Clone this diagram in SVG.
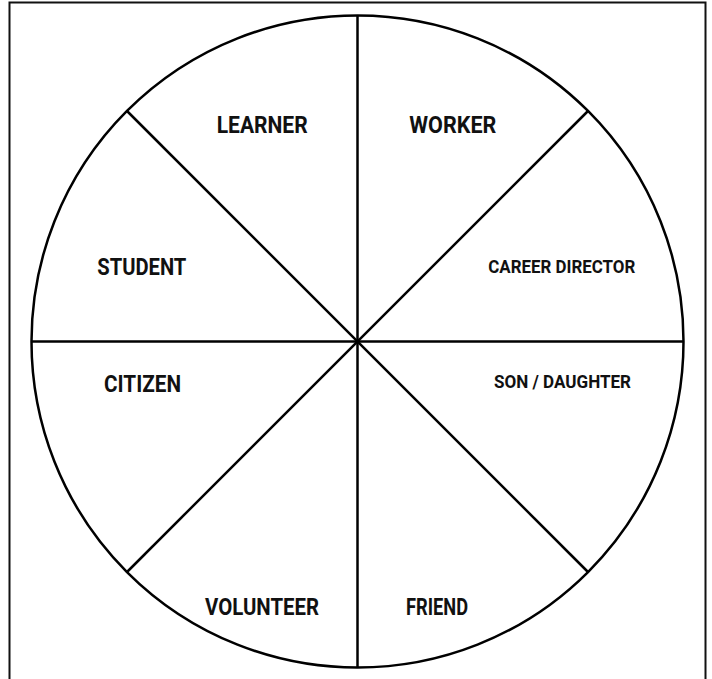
<svg xmlns="http://www.w3.org/2000/svg" width="712" height="679" viewBox="0 0 712 679">
<style>
.frame{fill:none;stroke:#111;stroke-width:2}
.wheel{fill:#fff;stroke:#000;stroke-width:2.5}
.spoke{stroke:#000;stroke-width:2.5}
.lbl{font-family:Roboto,"Liberation Sans",sans-serif;font-weight:bold;fill:#111}
.big{font-size:24px}
.small{font-size:18px}
</style>
<rect width="712" height="679" fill="#fff"/>
<rect class="frame" x="9.5" y="2.5" width="696" height="700"/>
<g id="wheel"><circle class="wheel" cx="357.5" cy="341.5" r="326"/></g>
<g id="connectors">
<line class="spoke" x1="357.5" y1="15.5" x2="357.5" y2="667.5"/>
<line class="spoke" x1="31.5" y1="341.5" x2="683.5" y2="341.5"/>
<line class="spoke" x1="127" y1="111" x2="588" y2="572"/>
<line class="spoke" x1="588" y1="111" x2="127" y2="572"/>
</g>
<g id="learner"><text class="lbl big" x="216.7" y="132.7" textLength="91" lengthAdjust="spacingAndGlyphs">LEARNER</text></g>
<g id="worker"><text class="lbl big" x="409.3" y="132.7" textLength="87" lengthAdjust="spacingAndGlyphs">WORKER</text></g>
<g id="student"><text class="lbl big" x="97.3" y="275" textLength="89" lengthAdjust="spacingAndGlyphs">STUDENT</text></g>
<g id="career-director"><text class="lbl small" x="488.3" y="272.7" textLength="147" lengthAdjust="spacingAndGlyphs">CAREER DIRECTOR</text></g>
<g id="citizen"><text class="lbl big" x="104" y="392" textLength="77" lengthAdjust="spacingAndGlyphs">CITIZEN</text></g>
<g id="son-daughter"><text class="lbl small" x="494" y="388" textLength="137" lengthAdjust="spacingAndGlyphs">SON / DAUGHTER</text></g>
<g id="volunteer"><text class="lbl big" x="205" y="615" textLength="114" lengthAdjust="spacingAndGlyphs">VOLUNTEER</text></g>
<g id="friend"><text class="lbl big" x="406" y="615" textLength="62" lengthAdjust="spacingAndGlyphs">FRIEND</text></g>
</svg>
